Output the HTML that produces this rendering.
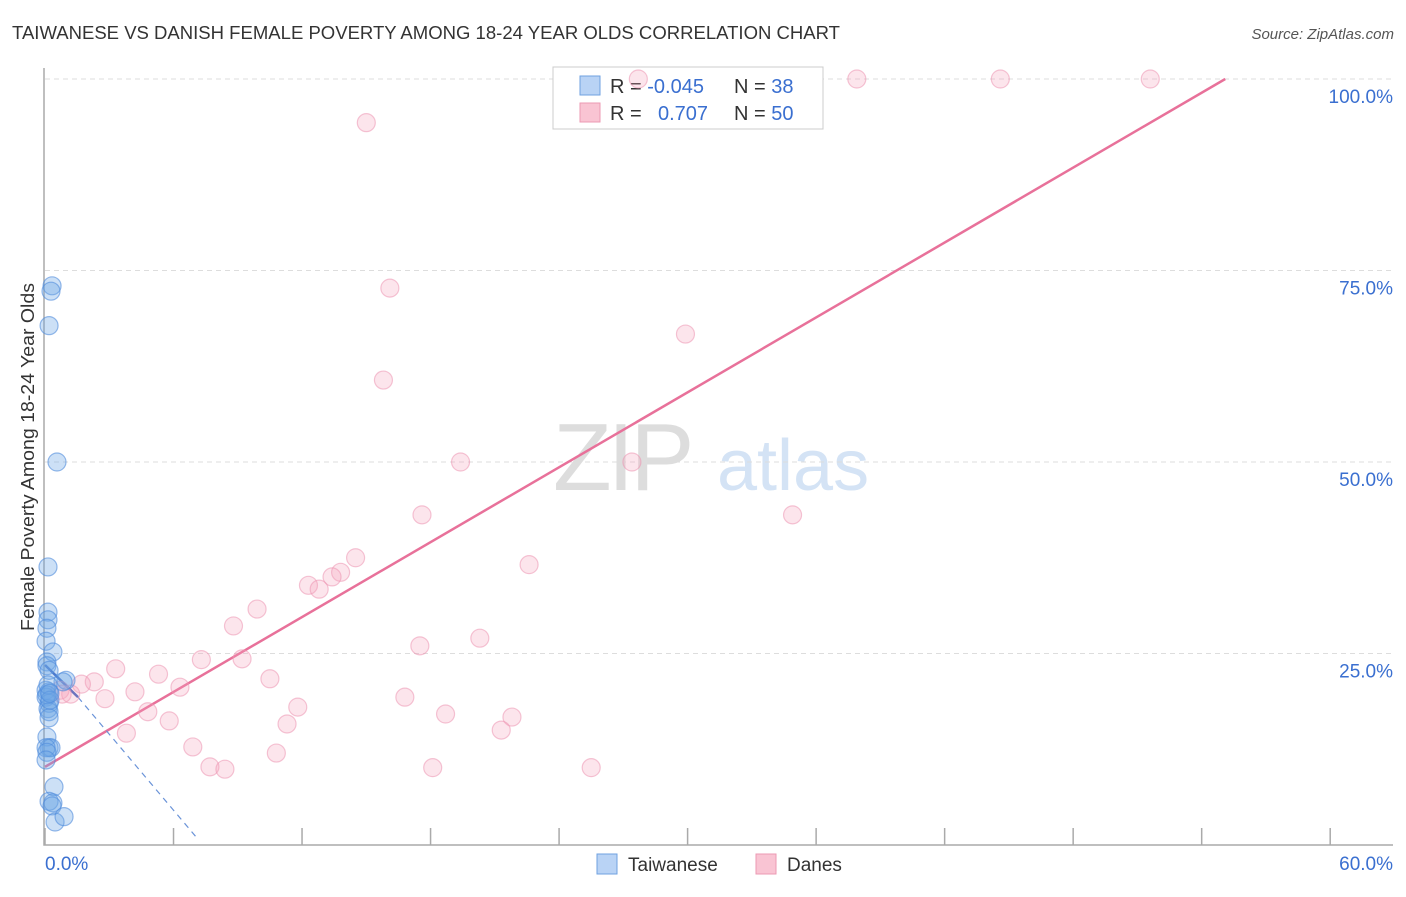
<!DOCTYPE html>
<html><head><meta charset="utf-8"><style>
body{margin:0;background:#fff;font-family:"Liberation Sans",sans-serif}
svg text{font-family:"Liberation Sans",sans-serif}
</style></head><body>
<svg id="chart" width="1406" height="892" xmlns="http://www.w3.org/2000/svg">
<text x="12" y="39" font-size="18" fill="#333" textLength="828" lengthAdjust="spacingAndGlyphs">TAIWANESE VS DANISH FEMALE POVERTY AMONG 18-24 YEAR OLDS CORRELATION CHART</text>
<text x="1394" y="39" font-size="15" fill="#555" text-anchor="end" font-style="italic">Source: ZipAtlas.com</text>
<g>
<text x="553" y="490" font-size="96" fill="#ddd" font-family="Liberation Serif" letter-spacing="-4">ZIP</text>
<text x="717" y="490" font-size="72" fill="#d4e3f5">atlas</text>
</g>
<g id="grid"></g>
<g id="axes"></g>
<g>
<rect x="553" y="67" width="270" height="62" fill="#fff" stroke="#ccc"/>
<rect x="580" y="76" width="20" height="19" fill="#b9d3f5" stroke="#6fa2e0"/>
<rect x="580" y="103" width="20" height="19" fill="#f9c4d3" stroke="#ec9ab3"/>
<text x="610" y="93" font-size="20" fill="#333">R = <tspan fill="#3a6fd0">-0.045</tspan></text>
<text x="734" y="93" font-size="20" fill="#333">N = <tspan fill="#3a6fd0"> 38</tspan></text>
<text x="610" y="120" font-size="20" fill="#333">R = </text>
<text x="658" y="120" font-size="20" fill="#3a6fd0">0.707</text>
<text x="734" y="120" font-size="20" fill="#333">N = <tspan fill="#3a6fd0">50</tspan></text>
</g>
<g id="lines"></g>
<g id="pts"></g>
<text transform="translate(34,457) rotate(-90)" font-size="18" fill="#333" text-anchor="middle" textLength="348" lengthAdjust="spacingAndGlyphs">Female Poverty Among 18-24 Year Olds</text>
<g>
<rect x="597" y="854" width="20" height="20" fill="#b9d3f5" stroke="#6fa2e0"/>
<text x="628" y="871" font-size="19" fill="#333">Taiwanese</text>
<rect x="756" y="854" width="20" height="20" fill="#f9c4d3" stroke="#ec9ab3"/>
<text x="787" y="871" font-size="19" fill="#333">Danes</text>
</g>
</svg>
<script>
const blueX=[.33,.28,.19,.56,.14,.14,.14,.09,.05,.37,.09,.09,.19,.98,.84,.05,.19,.05,.19,.14,.19,.19,.09,.19,.28,.05,.09,.05,.42,.19,.37,.33,.47,.89,.09,.14,.23,.23];
const blueY=[73.0,72.3,67.8,50.0,36.3,30.4,29.4,28.3,26.6,25.2,23.9,23.4,22.8,21.5,21.3,20.2,20.0,19.3,18.5,17.8,17.4,16.6,14.1,12.7,12.7,12.7,12.1,11.1,7.6,5.7,5.5,5.1,3.0,3.7,19.6,20.9,18.9,19.8];
const pinkX=[27.7,37.9,44.6,51.6,15.0,16.1,29.9,15.8,19.4,27.4,17.6,34.9,14.5,22.6,13.8,13.4,12.3,12.8,9.9,8.8,20.3,17.5,3.3,9.2,7.3,5.3,10.5,6.3,2.3,1.7,4.2,0.7,1.2,2.8,16.8,11.8,4.8,18.7,21.8,5.8,11.3,3.8,21.3,6.9,10.8,7.7,8.4,18.1,25.5,0.8];
const pinkY=[100,100,100,100,94.3,72.7,66.7,60.7,50.0,50.0,43.1,43.1,37.5,36.6,35.6,35.0,33.9,33.4,30.8,28.6,27.0,26.0,23.0,24.3,24.2,22.3,21.7,20.6,21.3,21.0,20.0,20.2,19.7,19.1,19.3,18.0,17.4,17.1,16.7,16.2,15.8,14.6,15.0,12.8,12.0,10.2,9.9,10.1,10.1,19.7];
const yTicks=[25,50,75,100];
const yTickLabels=["25.0%","50.0%","75.0%","100.0%"];
const xTicks=[0,6,12,18,24,30,36,42,48,54,60];
const xEndLabels=["0.0%","60.0%"];
const pinkTrend=[[0,10.2],[55.1,100]];
const blueTrendSolid=[[0,23.5],[1.54,19.3]];
const blueTrendDash=[[1.54,19.3],[7.1,0.9]];

const NS="http://www.w3.org/2000/svg";
const X=v=>45+v*21.42, Y=v=>845-v*7.66;
function mk(tag,attrs,parent){const e=document.createElementNS(NS,tag);for(const k in attrs)e.setAttribute(k,attrs[k]);document.getElementById(parent).appendChild(e);return e;}
yTicks.forEach((t,i)=>{
 const l=mk('line',{x1:45,x2:1393,y1:Y(t),y2:Y(t),stroke:'#ddd','stroke-dasharray':'5,4'},'grid');
 
 
 const tx=mk('text',{x:1393,y:Y(t)+24,'font-size':19,fill:'#3a6fd0','text-anchor':'end'},'axes');
 tx.textContent=yTickLabels[i];
 
 
});
const ax=mk('path',{d:'M44,68 V845 H1393',fill:'none',stroke:'#aaa','stroke-width':1.5},'axes');


xTicks.forEach(t=>{
 const l=mk('line',{x1:X(t),x2:X(t),y1:828,y2:845,stroke:'#aaa','stroke-width':1.5},'axes');
 
 
});
[[X(0),'start',0],[1393,'end',1]].forEach(([x,a,i])=>{
 const tx=mk('text',{x:x,y:870,'font-size':19,fill:'#3a6fd0','text-anchor':a},'axes');
 tx.textContent=xEndLabels[i];
 
 
});
function drawPts(xs,ys,fill,stroke,name){
 xs.forEach((x,i)=>{
  const c=mk('circle',{cx:X(x),cy:Y(ys[i]),r:9,fill:fill,stroke:stroke,'stroke-width':1.2},'pts');
  
  
 });
}
drawPts(pinkX,pinkY,'rgba(244,160,188,0.28)','rgba(236,150,178,0.55)','danes-point');
drawPts(blueX,blueY,'rgba(110,165,230,0.35)','rgba(80,140,220,0.6)','taiwanese-point');
function seg(p,stroke,w,dash,name){
 const l=mk('line',{x1:X(p[0][0]),y1:Y(p[0][1]),x2:X(p[1][0]),y2:Y(p[1][1]),stroke:stroke,'stroke-width':w},'lines');
 if(dash)l.setAttribute('stroke-dasharray',dash);
 
 
}
seg(pinkTrend,'#e8719a',2.5,null,'danes-trend-line');
seg(blueTrendSolid,'#3a62c0',2.5,null,'taiwanese-trend-line');
seg(blueTrendDash,'#6a93d8',1.2,'6,5','taiwanese-trend-extension');
</script>
</body></html>
